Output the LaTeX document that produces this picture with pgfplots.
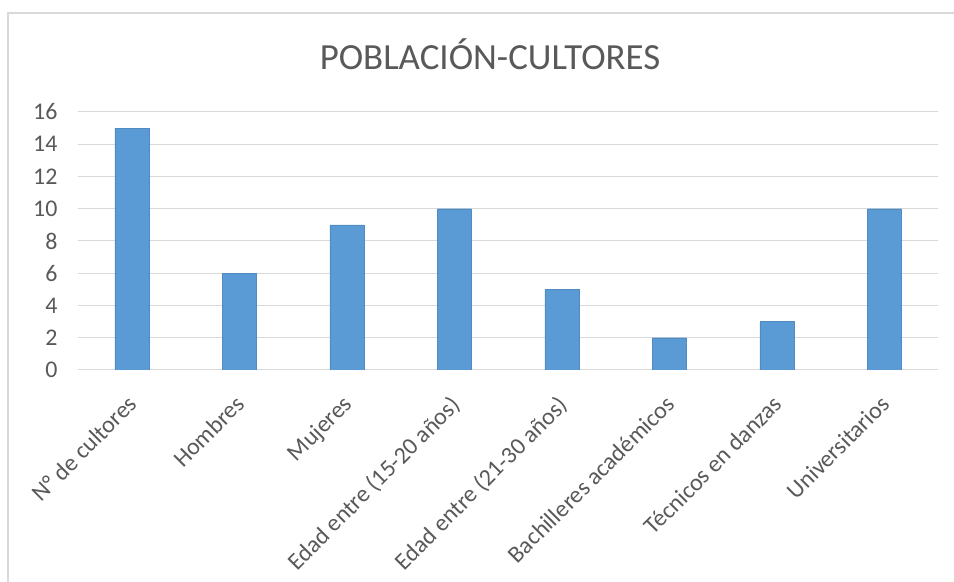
\documentclass[border=0pt]{standalone}
\usepackage{pgfplots}
\pgfplotsset{compat=1.18}
\usepackage{fontspec}
\setmainfont{Carlito}
\definecolor{barblue}{HTML}{5B9BD5}
\definecolor{gridgray}{HTML}{D9D9D9}
\definecolor{txtgray}{HTML}{595959}
\begin{document}
\begin{tikzpicture}[x=1bp,y=1bp]
\useasboundingbox (0,0) rectangle (954,582);
\fill[white] (0,0) rectangle (954,582);
\draw[gridgray, line width=1.2bp] (8,0) -- (8,569) -- (954,569);
\node[txtgray, font=\fontsize{37}{42}\selectfont] at (490,528) {POBLACIÓN-CULTORES};
\begin{axis}[
  at={(78bp,212bp)}, anchor=south west,
  scale only axis, width=860bp, height=258bp,
  xmin=-0.5, xmax=7.5, ymin=0, ymax=16,
  ytick={0,2,...,16},
  xtick=data,
  xticklabels={N° de cultores, Hombres, Mujeres, Edad entre (15-20 años), Edad entre (21-30 años), Bachilleres académicos, Técnicos en danzas, Universitarios},
  axis line style={draw=none},
  tick style={draw=none},
  ymajorgrids, grid style={gridgray, line width=1bp},
  /pgf/number format/assume math mode=true,
  yticklabel style={txtgray, font=\fontsize{24}{28}\selectfont, xshift=-17bp},
  xticklabel style={txtgray, font=\fontsize{24}{28}\selectfont, xshift=-5bp, yshift=-15bp, rotate=45, anchor=north east},
  ybar, bar width=34bp,
]
\addplot[fill=barblue, draw=barblue!90!black, line width=0.3bp] coordinates {(0,15) (1,6) (2,9) (3,10) (4,5) (5,2) (6,3) (7,10)};
\end{axis}
\end{tikzpicture}
\end{document}
